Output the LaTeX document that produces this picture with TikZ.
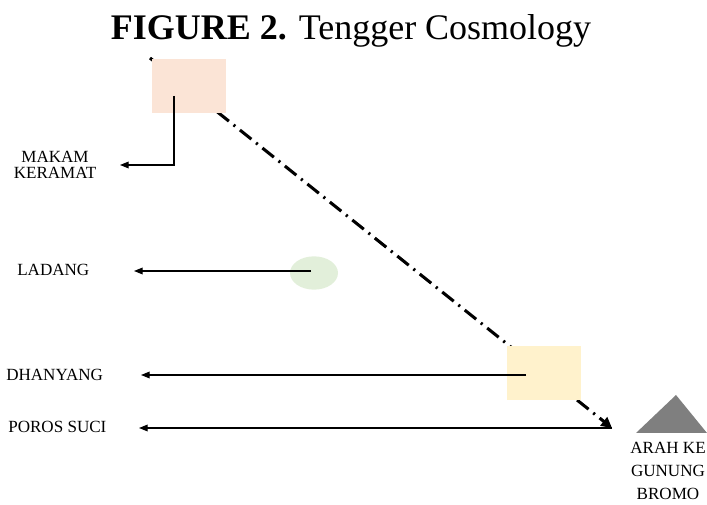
\documentclass[tikz,border=0pt]{standalone}
\usepackage{fontspec}
\setmainfont{Liberation Serif}
\usetikzlibrary{arrows.meta,shapes.geometric}
\definecolor{peach}{HTML}{FBE4D6}
\definecolor{leaf}{HTML}{E2EFDA}
\definecolor{cream}{HTML}{FFF2CC}
\definecolor{mount}{HTML}{7F7F7F}
\begin{document}
\begin{tikzpicture}[x=0.75pt,y=-0.75pt,
  lbl/.style={font=\fontsize{12.8}{12}\selectfont, inner sep=0pt, align=center},
  arr/.style={line width=0.9pt, -{Triangle[length=6.5pt,width=5pt]}},
  axis/.style={line width=2.3pt, dash pattern=on 11pt off 4.5pt on 1.6pt off 4.5pt,
               -{Triangle[length=8pt,width=8pt]}},
  box/.style={minimum width=55.5pt, minimum height=40.5pt, inner sep=0pt}]
\useasboundingbox (0,0) rectangle (707,505);

% title
\node[anchor=base] (title) at (351,40)
  {\fontsize{27}{27}\selectfont\textbf{FIGURE 2.} Tengger Cosmology};

% sacred axis, drawn first so the boxes sit on top of it
\coordinate (top) at (150,58);
\coordinate (tip) at (612,428);
\draw[axis] (top) -- (tip);

% places
\node[box, fill=peach] (makam-box) at (189,86) {};
\node[ellipse, fill=leaf, minimum width=36pt, minimum height=25pt, inner sep=0pt]
  (ladang-spot) at (314,273) {};
\node[box, fill=cream] (dhanyang-box) at (543.5,373) {};
\fill[mount] (636,433) -- (676,395) -- (707,433) -- cycle;

% labels
\node[lbl] (makam) at (55,164.5) {MAKAM\\KERAMAT};
\node[lbl, anchor=west] (ladang) at (17,270) {LADANG};
\node[lbl, anchor=west] (dhanyang) at (6,375) {DHANYANG};
\node[lbl, anchor=west] (poros) at (8,427) {POROS SUCI};
\node[lbl, font=\fontsize{12.8}{17.5}\selectfont] (bromo) at (668,471)
  {ARAH KE\\GUNUNG\\BROMO};

% pointers from each place to its label
\coordinate (makam-from) at (174,96);
\coordinate (makam-to) at (120,165);
\coordinate (ladang-from) at (311,271);
\coordinate (ladang-to) at (134,271);
\coordinate (dhanyang-from) at (526,375);
\coordinate (dhanyang-to) at (141,375);
\coordinate (poros-to) at (139,428);
\draw[arr] (makam-from) |- (makam-to);
\draw[arr] (ladang-from) -- (ladang-to);
\draw[arr] (dhanyang-from) -- (dhanyang-to);
\draw[arr] (tip) -- (poros-to);
\end{tikzpicture}
\end{document}
